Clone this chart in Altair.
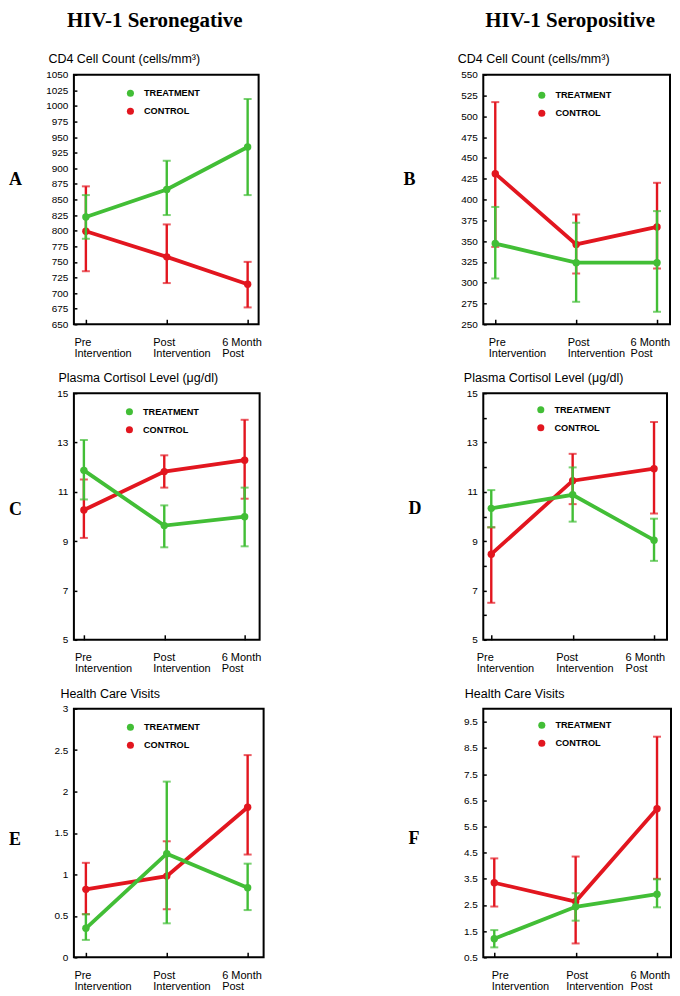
import altair as alt
import pandas as pd

FONT = "Liberation Sans"
SERIF = "Liberation Serif"
GREEN = "#42be36"
RED = "#e2161f"

TIMES = ["Pre", "Post", "6 Month"]
TIME_LABELS = [["Pre", "Intervention"], ["Post", "Intervention"], ["6 Month", "Post"]]
GROUPS = ["TREATMENT", "CONTROL"]
COLUMN_TITLES = ["HIV-1 Seronegative", "HIV-1 Seropositive"]

# Panel A: CD4, seronegative
A_treat = [822, 866, 934]
A_treat_lo = [787, 825, 857]
A_treat_hi = [857, 912, 1011]
A_ctrl = [799, 758, 714]
A_ctrl_lo = [735, 716, 677]
A_ctrl_hi = [871, 810, 750]

# Panel B: CD4, seropositive
B_treat = [347, 324, 324]
B_treat_lo = [305, 277, 265]
B_treat_hi = [391, 372, 386]
B_ctrl = [431, 346, 367]
B_ctrl_lo = [343, 311, 317]
B_ctrl_hi = [517, 382, 420]

# Panel C: cortisol, seronegative
C_treat = [11.87, 9.63, 9.99]
C_treat_lo = [10.69, 8.75, 8.79]
C_treat_hi = [13.1, 10.45, 11.17]
C_ctrl = [10.26, 11.82, 12.28]
C_ctrl_lo = [9.13, 11.17, 10.72]
C_ctrl_hi = [11.5, 12.48, 13.92]

# Panel D: cortisol, seropositive
D_treat = [10.33, 10.88, 9.04]
D_treat_lo = [9.56, 9.79, 8.2]
D_treat_hi = [11.07, 11.99, 9.91]
D_ctrl = [8.47, 11.45, 11.94]
D_ctrl_lo = [6.5, 10.5, 10.12]
D_ctrl_hi = [9.56, 12.54, 13.83]

# Panel E: health care visits, seronegative
E_treat = [0.35, 1.25, 0.84]
E_treat_lo = [0.21, 0.41, 0.57]
E_treat_hi = [0.52, 2.12, 1.13]
E_ctrl = [0.82, 0.98, 1.81]
E_ctrl_lo = [0.52, 0.58, 1.24]
E_ctrl_hi = [1.14, 1.40, 2.44]

# Panel F: health care visits, seropositive
F_treat = [1.21, 2.43, 2.91]
F_treat_lo = [0.88, 1.9, 2.41]
F_treat_hi = [1.54, 2.95, 3.48]
F_ctrl = [3.35, 2.63, 6.18]
F_ctrl_lo = [2.44, 1.03, 3.5]
F_ctrl_hi = [4.28, 4.35, 8.93]

CD4_TICKS_A = list(range(650, 1051, 25))
CD4_TICKS_B = list(range(250, 551, 25))
CORT_TICKS_C = [5, 7, 9, 11, 13, 15]
CORT_TICKS_D = list(range(5, 16))
HCV_TICKS_E = [0, 0.5, 1, 1.5, 2, 2.5, 3]
HCV_TICKS_F = [0.5, 1.5, 2.5, 3.5, 4.5, 5.5, 6.5, 7.5, 8.5, 9.5]

label_expr = " : ".join(
    [f"datum.value == '{t}' ? ['{l[0]}', '{l[1]}']" for t, l in zip(TIMES[:-1], TIME_LABELS[:-1])]
    + [f"['{TIME_LABELS[-1][0]}', '{TIME_LABELS[-1][1]}']"]
)

PANELS = [
    dict(key="A", data=(A_treat, A_treat_lo, A_treat_hi, A_ctrl, A_ctrl_lo, A_ctrl_hi),
         ydomain=[650, 1050], yvalues=CD4_TICKS_A, ytitle="CD4 Cell Count (cells/mm³)",
         w=185, h=250, xrange=[12, 174], offs=[-12, -14, -26], title_x=-26, title_y=-12,
         letter_xy=(-65, 111), legend_c=(56, 19), col_title=(COLUMN_TITLES[0], 81)),
    dict(key="B", data=(B_treat, B_treat_lo, B_treat_hi, B_ctrl, B_ctrl_lo, B_ctrl_hi),
         ydomain=[250, 550], yvalues=CD4_TICKS_B, ytitle="CD4 Cell Count (cells/mm³)",
         w=187, h=250, xrange=[12, 174], offs=[-7, -9, -27], title_x=-26, title_y=-12,
         letter_xy=(-80, 111), legend_c=(58, 21), col_title=(COLUMN_TITLES[1], 87)),
    dict(key="C", data=(C_treat, C_treat_lo, C_treat_hi, C_ctrl, C_ctrl_lo, C_ctrl_hi),
         ydomain=[5, 15], yvalues=CORT_TICKS_C, ytitle="Plasma Cortisol Level (μg/dl)",
         w=186, h=247, xrange=[10, 171], offs=[-9.5, -11.5, -23.5], title_x=-16, title_y=-12,
         letter_xy=(-65, 122), legend_c=(55, 19), col_title=None),
    dict(key="D", data=(D_treat, D_treat_lo, D_treat_hi, D_ctrl, D_ctrl_lo, D_ctrl_hi),
         ydomain=[5, 15], yvalues=CORT_TICKS_D, ytitle="Plasma Cortisol Level (μg/dl)",
         w=184, h=247, xrange=[8, 171], offs=[-15, -17, -29], title_x=-20, title_y=-12,
         odd_only=True, letter_xy=(-75, 121), legend_c=(57, 17), col_title=None),
    dict(key="E", data=(E_treat, E_treat_lo, E_treat_hi, E_ctrl, E_ctrl_lo, E_ctrl_hi),
         ydomain=[0, 3], yvalues=HCV_TICKS_E, ytitle="Health Care Visits",
         w=190, h=249, xrange=[12, 174], offs=[-12, -14, -26], title_x=-14, title_y=-11,
         letter_xy=(-65, 137), legend_c=(56, 19), col_title=None),
    dict(key="F", data=(F_treat, F_treat_lo, F_treat_hi, F_ctrl, F_ctrl_lo, F_ctrl_hi),
         ydomain=[0.5, 10], yvalues=HCV_TICKS_F, ytitle="Health Care Visits",
         w=188, h=249, xrange=[11, 174], offs=[-3, -10, -27], title_x=-19, title_y=-11,
         letter_xy=(-75, 136), legend_c=(58, 17), col_title=None),
]


def make_panel(p):
    treat, tlo, thi, ctrl, clo, chi = p["data"]
    rows = []
    for g, m, lo, hi in [("CONTROL", ctrl, clo, chi), ("TREATMENT", treat, tlo, thi)]:
        for i, (t, a, b, c) in enumerate(zip(TIMES, m, lo, hi)):
            rows.append({"time": t, "idx": i, "group": g, "mean": a, "lo": b, "hi": c})
    df = pd.DataFrame(rows)

    offs = p["offs"]
    xaxis = alt.Axis(
        title=None, orient="bottom", offset=-5, tickSize=5, tickWidth=1.5, tickColor="black",
        domain=False, grid=False, labelAngle=0, labelAlign="left", labelBaseline="top",
        labelPadding=12, labelLineHeight=11, labelFont=FONT, labelFontSize=11,
        labelColor="black", labelExpr=label_expr, labelOverlap=False, labelBound=False,
        labelFlush=False,
        labelOffset={"condition": [{"test": f"datum.value == '{TIMES[0]}'", "value": offs[0]},
                                   {"test": f"datum.value == '{TIMES[1]}'", "value": offs[1]}],
                     "value": offs[2]},
    )
    fmt = "format(datum.value, '~f')"
    ylabel = f"datum.value % 2 == 1 ? {fmt} : ''" if p.get("odd_only") else fmt
    yaxis = alt.Axis(
        title=p["ytitle"], titleAngle=0, titleAlign="left", titleBaseline="alphabetic",
        titleX=p["title_x"] - 3, titleY=p["title_y"], titleFont=FONT, titleFontSize=12.5,
        titleFontWeight="normal", titleColor="black",
        values=p["yvalues"], labelExpr=ylabel, offset=-3, tickSize=3,
        tickWidth=1.5, tickColor="black", domain=False, grid=False, labelFont=FONT,
        labelFontSize=10, labelPadding=6, labelColor="black", labelOverlap=False,
    )
    x_enc = alt.X("time:N", sort=TIMES,
                  scale=alt.Scale(type="point", domain=TIMES, range=p["xrange"], padding=0),
                  axis=xaxis)

    def y_enc(field):
        return alt.Y(f"{field}:Q", scale=alt.Scale(domain=p["ydomain"], nice=False, zero=False),
                     axis=yaxis)

    lx, ly = p["legend_c"]
    legend = alt.Legend(
        title=None, orient="none", legendX=lx - 4, legendY=ly - 5, symbolType="circle",
        symbolSize=50, symbolStrokeWidth=0, labelFont=FONT, labelFontSize=9.2,
        labelFontWeight="bold", labelColor="black", rowPadding=8, labelOffset=9, padding=0,
    )
    layers = []
    for g, col in [("CONTROL", RED), ("TREATMENT", GREEN)]:
        base = alt.Chart(df).transform_filter(alt.datum.group == g)
        layers.append(base.mark_rule(strokeWidth=2.4, color=col).encode(
            x=x_enc, y=y_enc("lo"), y2=alt.Y2("hi:Q")))
        layers.append(base.mark_tick(thickness=2, size=8, color=col).encode(x=x_enc, y=y_enc("lo")))
        layers.append(base.mark_tick(thickness=2, size=8, color=col).encode(x=x_enc, y=y_enc("hi")))
        layers.append(base.mark_line(strokeWidth=3.8, color=col).encode(
            x=x_enc, y=y_enc("mean"), order=alt.Order("idx:Q")))
        layers.append(base.mark_circle(size=55, opacity=1).encode(
            x=x_enc, y=y_enc("mean"),
            color=alt.Color("group:N", scale=alt.Scale(domain=GROUPS, range=[GREEN, RED]),
                            legend=legend)))
    lxy = p["letter_xy"]
    layers.append(alt.Chart(pd.DataFrame({"t": [p["key"]]})).mark_text(
        font=SERIF, fontSize=18, fontWeight="bold", align="left", baseline="alphabetic",
        color="black").encode(text="t:N", x=alt.value(lxy[0]), y=alt.value(lxy[1])))
    if p["col_title"]:
        ct, cx = p["col_title"]
        layers.append(alt.Chart(pd.DataFrame({"t": [ct]})).mark_text(
            font=SERIF, fontSize=21, fontWeight="bold", align="center", baseline="alphabetic",
            color="black").encode(text="t:N", x=alt.value(cx), y=alt.value(-48)))
    return alt.layer(*layers).properties(width=p["w"], height=p["h"])


panels = [make_panel(p) for p in PANELS]

chart = alt.concat(
    *panels, columns=2, spacing={"row": 69, "column": 220}, bounds="flush"
).resolve_scale(
    x="independent", y="independent", color="independent"
).resolve_legend(
    color="independent"
).properties(
    padding=0
).configure_view(
    stroke="black", strokeWidth=2
)

chart.save("out.html", embed_options={"renderer": "svg", "actions": False})
